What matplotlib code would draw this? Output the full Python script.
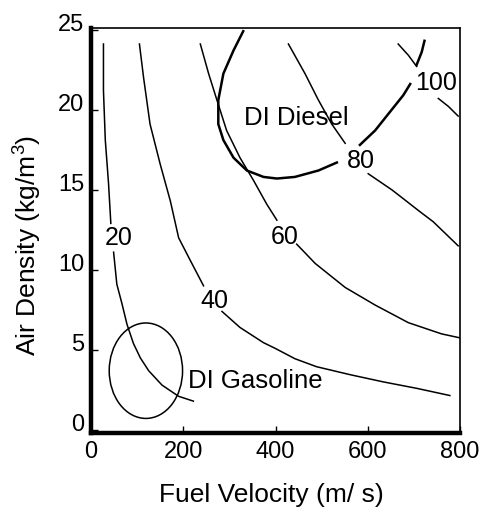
import numpy as np
import matplotlib
matplotlib.use('Agg')
import matplotlib.pyplot as plt
from matplotlib.patches import Ellipse

plt.rcParams['font.family'] = ['Liberation Sans', 'DejaVu Sans']
plt.rcParams['mathtext.fontset'] = 'custom'
plt.rcParams['mathtext.rm'] = 'Liberation Sans'

nan = np.nan

# contour lines (gaps where the labels sit)
c20_x = [27, 27, 31, 38, 43, nan, 49, 56, 67, 78, 92, 107, 125, 154, 190, 222]
c20_y = [24.1, 21.2, 18.1, 15.4, 12.9, nan, 11.1, 9.1, 7.9, 6.6, 5.4, 4.5, 3.7, 2.8, 2.1, 1.8]

c40_x = [105, 114, 128, 150, 172, 190, 215, 244, nan, 284, 323, 374, 399, 442, 489, 562, 634, 706, 778]
c40_y = [24.1, 22.0, 19.1, 16.6, 14.3, 12.0, 10.6, 9.0, nan, 7.4, 6.4, 5.45, 5.1, 4.45, 3.95, 3.45, 3.0, 2.6, 2.15]

c60_x = [237, 255, 273, 294, 323, 352, 381, 403, nan, 446, 486, 551, 616, 688, 760, 800]
c60_y = [24.1, 22.25, 20.6, 18.7, 17.0, 15.6, 14.1, 13.1, nan, 11.6, 10.4, 8.9, 7.8, 6.7, 6.0, 5.75]

c80_x = [428, 464, 493, 522, 551, nan, 601, 652, 670, 710, 742, 796]
c80_y = [24.1, 22.25, 20.6, 19.1, 17.9, nan, 16.0, 15.0, 14.6, 13.7, 13.0, 11.5]

c100_x = [666, 688, 706, nan, 753, 775, 796]
c100_y = [24.1, 23.4, 22.7, nan, 20.7, 20.2, 19.6]

diesel_x = [330, 309, 287, 276, 276, 287, 309, 338, 374, 403, 442, 493, 533, nan,
            583, 616, 652, 677, 692, nan, 706, 717, 723]
diesel_y = [24.9, 23.7, 22.25, 20.6, 19.1, 18.1, 17.0, 16.2, 15.8, 15.7, 15.8, 16.2, 16.7, nan,
            17.8, 18.7, 20.0, 20.9, 21.6, nan, 22.8, 23.6, 24.3]

# DI gasoline region (ellipse centre and size)
gas_center = (119, 3.7)
gas_width = 159
gas_height = 5.96

levels = ['20', '40', '60', '80', '100']
level_x = [61, 267, 421, 585, 748]
level_y = [11.6, 7.7, 11.7, 16.4, 21.3]

fig = plt.figure(figsize=(4.83, 5.10), dpi=100)
ax = fig.add_axes([91/483, 76/510, 369/483, 405/510])

for xs, ys in [(c20_x, c20_y), (c40_x, c40_y), (c60_x, c60_y), (c80_x, c80_y), (c100_x, c100_y)]:
    ax.plot(xs, ys, color='black', lw=1.1)

ax.plot(diesel_x, diesel_y, color='black', lw=1.8)
ax.add_patch(Ellipse(gas_center, gas_width, gas_height, fill=False, ec='black', lw=1.1))

for lab, lx, ly in zip(levels, level_x, level_y):
    ax.text(lx, ly, lab, fontsize=18, ha='center', va='baseline')

ax.text(332, 19.1, 'DI Diesel', fontsize=18.5, ha='left', va='baseline')
ax.text(211, 2.67, 'DI Gasoline', fontsize=18.5, ha='left', va='baseline')

ax.set_xlim(0, 800)
ax.set_ylim(-0.19, 25.1)
ax.set_xticks([0, 200, 400, 600, 800])
ax.set_yticks([0, 5, 10, 15, 20, 25])
ax.tick_params(direction='in', length=5, width=1, labelsize=17, pad=5)
for t in ax.get_yticklabels():
    t.set_va('baseline')

ax.spines['left'].set_linewidth(3.2)
ax.spines['bottom'].set_linewidth(3.2)
ax.spines['top'].set_linewidth(1.2)
ax.spines['right'].set_linewidth(1.2)

ax.set_xlabel('Fuel Velocity (m/ s)', fontsize=19)
ax.set_ylabel('Air Density (kg/m$\\mathregular{^3}$)', fontsize=19)
ax.xaxis.set_label_coords(0.488, -0.151)
ax.yaxis.set_label_coords(-0.171, 0.465)
for lbl in [ax.xaxis.label, ax.yaxis.label]:
    lbl.set_va('center')

fig.savefig('out.png', dpi=100)
